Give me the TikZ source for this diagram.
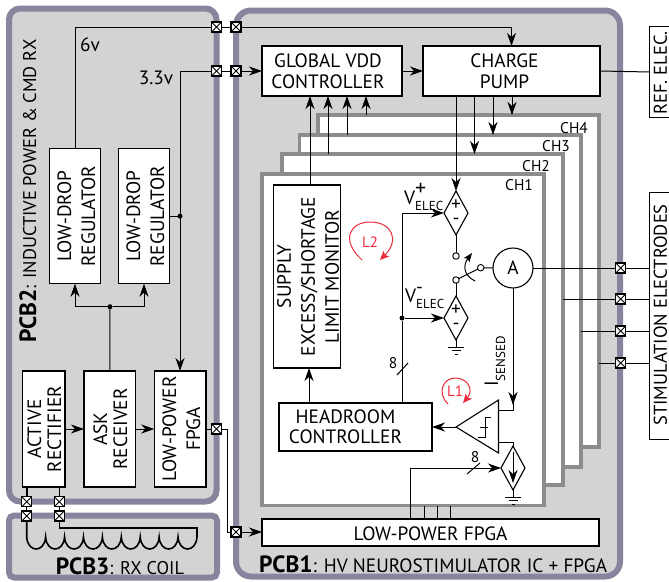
\documentclass[tikz,border=0pt]{standalone}
\usepackage{fontspec}
\usepackage{graphicx}
\setmainfont{PT Sans}
\usetikzlibrary{positioning,shapes.geometric,arrows.meta,calc}
\definecolor{PanelGray}{RGB}{211, 211, 211}
\definecolor{PanelEdge}{RGB}{137, 132, 158}
\definecolor{FrameGray}{RGB}{140, 140, 140}
\definecolor{LoopRed}{RGB}{237, 43, 60}
\newcommand{\btext}[1]{\raisebox{-8pt}[0pt][0pt]{\begin{tabular}{@{}c@{}}#1\end{tabular}}}
\newcommand{\vtext}[1]{\makebox[40pt][c]{\hspace*{6.5pt}\rotatebox{90}{\begin{tabular}{@{}c@{}}#1\end{tabular}}}}
\newcommand{\pcbname}[2]{{\fontsize{23.5}{26}\selectfont\bfseries #1}: #2}
\tikzset{
  wh/.style 2 args={minimum width=#1, minimum height=#2},
  panel/.style={draw=PanelEdge, fill=PanelGray, line width=6pt, rectangle, outer sep=0pt},
  chframe/.style={draw=FrameGray, fill=white, line width=3.5pt, rectangle, outer sep=0pt},
  block/.style={draw, fill=white, line width=1.1pt, rectangle, inner sep=0pt, outer sep=0pt,
    font=\fontsize{19.3}{21}\selectfont},
  tallblock/.style={block, font=\fontsize{19.3}{24}\selectfont},
  shortblock/.style={block, font=\fontsize{19.3}{20}\selectfont},
  lbl/.style={inner sep=0pt, font=\fontsize{19.3}{22}\selectfont},
  chlbl/.style={lbl, font=\fontsize{15.5}{18}\selectfont},
  wire/.style={line width=1pt},
  arr/.style={wire, -{Stealth[length=13pt, width=9pt, inset=4pt]}},
  coilwire/.style={line width=1.6pt},
  pad/.style={draw, fill=white, line width=1.5pt, rectangle, minimum size=10pt, inner sep=0pt, outer sep=0pt,
    path picture={
      \draw[line width=0.9pt] (path picture bounding box.south west) -- (path picture bounding box.north east);
      \draw[line width=0.9pt] (path picture bounding box.north west) -- (path picture bounding box.south east);
    }},
  dot/.style={circle, fill=black, minimum size=5pt, inner sep=0pt, outer sep=0pt},
  term/.style={draw, fill=white, circle, line width=0.9pt, minimum size=6.5pt, inner sep=0pt, outer sep=0pt},
  srcdia/.style={draw, fill=white, diamond, line width=1.1pt, wh={24}{44}, inner sep=0pt, outer sep=0pt},
  loopred/.style={draw=LoopRed, line width=1pt, -{Stealth[length=9pt, width=8pt, inset=2pt]}},
  gnd/.pic={
    \draw[wire] (0,0) -- (0,7);
    \draw[wire] (-8,7) -- (8,7);
    \draw[wire] (-4.5,10.5) -- (4.5,10.5);
    \draw[wire] (-1.5,14) -- (1.5,14);
  }
}
\begin{document}
\begin{tikzpicture}[x=1pt, y=-1pt]
    \useasboundingbox (0,0) rectangle (669,581);
    % boards
    \node[panel, rounded corners=11pt, wh={207.5}{493}] (pcbTwo) at (112.75,255) {};
    \node[panel, rounded corners=5pt, wh={208}{62}] (pcbThree) at (113,546.5) {};
    \node[panel, rounded corners=15pt, wh={384}{566}] (pcbOne) at (428,293.5) {};
    \node[lbl, rotate=90, anchor=west, font=\fontsize{18.4}{22}\selectfont] (pcbTwoTxt) at (28,343) {\pcbname{PCB2}{INDUCTIVE POWER \& CMD RX}};
    \node[lbl, font=\fontsize{18.4}{22}\selectfont] (pcbThreeTxt) at (120,566) {\pcbname{PCB3}{RX COIL}};
    \node[lbl, anchor=west] (pcbOneTxt) at (259,564) {\pcbname{PCB1}{HV NEUROSTIMULATOR IC + FPGA}};

    % PCB2 blocks
    \node[tallblock, wh={51}{135}] (ldoA) at (75,216.2) {\vtext{LOW-DROP\\REGULATOR}};
    \node[tallblock, wh={51}{135}, right=18pt of ldoA] (ldoB) {\vtext{LOW-DROP\\REGULATOR}};
    \node[shortblock, wh={42.3}{116}] (rect) at (43.8,429) {\vtext{ACTIVE\\RECTIFIER}};
    \node[shortblock, wh={51.7}{116}, right=19pt of rect] (ask) {\vtext{ASK\\RECEIVER}};
    \node[tallblock, wh={51.7}{116}, right=18.6pt of ask] (fpgaA) {\vtext{LOW-POWER\\FPGA}};

    % channels
    \node[chframe, wh={281}{332}] (ch4) at (458.5,281) {};
    \node[chframe, wh={281.5}{332}] (ch3) at (440.25,301) {};
    \node[chframe, wh={281}{331}] (ch2) at (422.5,319.5) {};
    \node[chframe, wh={282}{331.6}] (ch1) at (403,339.8) {};
    \node[chlbl] (ch4Txt) at (574,128) {CH4};
    \node[chlbl] (ch3Txt) at (556,146) {CH3};
    \node[chlbl] (ch2Txt) at (536,166) {CH2};
    \node[chlbl] (ch1Txt) at (519,185) {CH1};

    % PCB1 blocks
    \node[block, wh={140}{50}] (gvdd) at (332,71) {\btext{GLOBAL VDD\\CONTROLLER}\hspace*{8pt}};
    \node[block, wh={177}{50}] (pump) at (511.5,71) {\btext{CHARGE\\PUMP}\hspace*{14pt}};
    \node[tallblock, wh={67}{183}] (supply) at (306.8,276.5) {\vtext{SUPPLY\\EXCESS/SHORTAGE\\LIMIT MONITOR}};
    \node[shortblock, wh={153}{48}] (headroom) at (355.5,427) {\btext{HEADROOM\\CONTROLLER}\hspace*{20pt}};
    \node[block, wh={337}{27}] (fpgaB) at (430.5,532.5) {\raisebox{-7.5pt}[0pt][0pt]{LOW-POWER FPGA}};
    \node[srcdia] (vp) at (456,213) {};
    \node[srcdia] (vm) at (456,318) {};
    \node[srcdia] (isrc) at (513,468) {};
    \node[draw, fill=white, circle, line width=1.1pt, minimum size=40pt, inner sep=0pt, outer sep=0pt,
      font=\fontsize{19.3}{22}\selectfont] (amp) at (513,268) {A};
    \node[term] (swTop) at (456,256) {};
    \node[term] (swLow) at (456,280) {};
    \node[term] (swOut) at (480.7,267.7) {};

    % electrodes, cut by the page edge
    \node[block, wh={60}{91}] (ref) at (679.5,72) {};
    \node[block, wh={60}{247.5}] (stim) at (679.5,316) {};
    \node[lbl, rotate=90, font=\fontsize{18.5}{22}\selectfont] (refTxt) at (660.5,73) {REF. ELEC.};
    \node[lbl, rotate=90, font=\fontsize{18.5}{22}\selectfont] (stimTxt) at (660.5,315) {STIMULATION ELECTRODES};

    % pads between boards
    \node[pad] (padSixA) at (216.5,27) {};
    \node[pad] (padSixB) at (236,27) {};
    \node[pad] (padLowA) at (216.5,71) {};
    \node[pad] (padLowB) at (236,71) {};
    \node[pad] (padDataA) at (216.5,429) {};
    \node[pad] (padDataB) at (236,532) {};
    \node[pad] (padRxA) at (26.7,501.7) {};
    \node[pad] (padRxB) at (59.3,501.7) {};
    \node[pad] (padRxC) at (26.7,516) {};
    \node[pad] (padRxD) at (59.3,516) {};
    \node[pad] (padElA) at (620.7,268) {};
    \node[pad] (padElB) at (620.7,299) {};
    \node[pad] (padElC) at (620.7,331) {};
    \node[pad] (padElD) at (620.7,363) {};

    % supply rails
    \draw[wire] (ldoA.north) |- (padSixA);
    \draw[wire] (padSixA) -- (padSixB);
    \draw[arr] (padSixB) -| (pump.north);
    \node[lbl] (sixTxt) at (90,45) {6v};
    \node[lbl] (lowTxt) at (156,78) {3.3v};
    \node[dot] (ldoDot) at (180,216.2) {};
    \draw[wire] (ldoB.east) -- (ldoDot);
    \draw[arr] (padLowA -| ldoDot) -- (fpgaA.north -| ldoDot);
    \draw[wire] (padLowA -| ldoDot) -- (padLowA);
    \draw[wire] (padLowA) -- (padLowB);
    \draw[arr] (padLowB) -- (gvdd.west);
    \draw[arr] (gvdd.east) -- (pump.west);

    % PCB2 signal path
    \node[dot] (askDot) at (110,306.7) {};
    \draw[wire] (ask.north) -- (askDot);
    \draw[arr] (askDot) -| (ldoA.south);
    \draw[arr] (askDot) -| (ldoB.south);
    \draw[arr] (rect.east) -- (ask.west);
    \draw[arr] (ask.east) -- (fpgaA.west);
    \draw[wire] (fpgaA.east) -- (padDataA);
    \coordinate (dataBend) at (227,429);
    \draw[wire] (padDataA) -- (dataBend) |- (padDataB);
    \draw[arr] (padDataB) -- (fpgaB.west |- padDataB);

    % RX coil
    \draw[coilwire] (rect.south -| padRxA) -- (padRxA);
    \draw[coilwire] (rect.south -| padRxB) -- (padRxB);
    \draw[wire] (padRxA) -- (padRxC);
    \draw[wire] (padRxB) -- (padRxD);
    \coordinate (coilStart) at (26.7,537);
    \coordinate (coilEnd) at (197,537);
    \draw[coilwire] (padRxC) -- (coilStart)
      \foreach \k in {0,...,8} { .. controls +(1,16) and +(-1,16) .. ($(coilStart)+({18.92*(\k+1)},0)$) };
    \draw[coilwire] (padRxD) |- (197,527.7) -- (coilEnd);

    % charge pump and controller links
    \draw[arr] (vp.north |- pump.south) -- (vp.north);
    \foreach \x/\ch in {474.5/ch2, 493/ch3, 512/ch4}
      \draw[arr] (pump.south -| \x,0) -- (\ch.north -| \x,0);
    \foreach \x/\ch in {328/ch2, 347/ch3, 366/ch4}
      \draw[arr] (\ch.north -| \x,0) -- (gvdd.south -| \x,0);
    \draw[arr] (supply.north -| 310,0) -- (gvdd.south -| 310,0);
    \draw[wire] (pump.east) -- (ref.west);

    % channel 1
    \draw[arr] (headroom.north -| 309,0) -- (supply.south -| 309,0);
    \node[dot] (vmDot) at (402,318) {};
    \draw[wire] (headroom.north -| vmDot) -- (vmDot);
    \draw[arr] (vmDot) -- (vm.west);
    \draw[arr] (vmDot) |- (vp.west);
    \draw[wire] (397,375) -- (408,363);
    \node[chlbl] (eightA) at (393,363) {8};
    \draw[wire] (vp.south) -- (swTop);
    \draw[wire] (swLow) -- (vm.north);
    \draw[wire] (swLow) -- (swOut);
    \draw[wire] (swOut) -- (amp.west);
    \coordinate (armFrom) at (475,281);
    \coordinate (armTo) at (472,253);
    \draw[wire, -{Stealth[length=9pt, width=7pt, inset=2pt]}] (armFrom) .. controls (463,275) and (463,265) .. (armTo);
    \node[lbl, anchor=west] (vpTxt) at (404,197) {V\rlap{\raisebox{9pt}{\fontsize{22}{22}\selectfont +}}\raisebox{-6pt}{\fontsize{13}{15}\selectfont ELEC}};
    \node[lbl, anchor=west] (vmTxt) at (405,298) {V\rlap{\raisebox{9pt}{\fontsize{19}{20}\selectfont -}}\raisebox{-6pt}{\fontsize{13}{15}\selectfont ELEC}};
    \node[lbl] (vpPlus) at (456,205) {+};
    \node[lbl] (vpMinus) at (456,221) {-};
    \node[lbl] (vmPlus) at (456,310) {+};
    \node[lbl] (vmMinus) at (456,326) {-};
    \pic at (vm.south) {gnd};
    \pic at (isrc.south) {gnd};
    \draw[wire] (amp.east) -- (padElA);

    % electrode lines
    \draw[wire] (padElA) -- (stim.west |- padElA);
    \draw[wire] (ch2.east |- padElB) -- (padElB);
    \draw[wire] (padElB) -- (stim.west |- padElB);
    \draw[wire] (ch3.east |- padElC) -- (padElC);
    \draw[wire] (padElC) -- (stim.west |- padElC);
    \draw[wire] (ch4.east |- padElD) -- (padElD);
    \draw[wire] (padElD) -- (stim.west |- padElD);

    % comparator and current source
    \coordinate (cmpTip) at (456,427);
    \coordinate (cmpTop) at (498.5,400);
    \coordinate (cmpBot) at (498.5,453);
    \coordinate (senseIn) at (498.5,410);
    \coordinate (refIn) at (498.5,442.5);
    \draw[line width=1.1pt, fill=white] (cmpTip) -- (cmpTop) -- (cmpBot) -- cycle;
    \draw[wire] (478,437) -- (485,437) -- (485,417) -- (490.7,417);
    \draw[wire] (480,427) -- (488,427);
    \draw[arr] (cmpTip) -- (headroom.east |- cmpTip);
    \draw[wire] (amp.south) -- (amp.south |- senseIn) -- (senseIn);
    \draw[arr] (amp.south) -- (513,405);
    \draw[wire] (refIn) -| (isrc.north);
    \draw[arr] (513,452) -- (513,483);
    \node[lbl, rotate=90, anchor=west] (senseTxt) at (495,387) {I\raisebox{-7pt}{\fontsize{13}{15}\selectfont SENSED}};

    % 8 bit bus and FPGA links
    \draw[arr] (fpgaB.north -| 410.7,0) |- (isrc.west);
    \draw[wire] (467,474) -- (480,463);
    \node[chlbl] (eightB) at (475,457) {8};
    \foreach \x in {424,437,450}
      \draw[wire] (fpgaB.north -| \x,0) -- (ch1.south -| \x,0);

    % loop marks
    \coordinate (loopTwoA) at (362,260);
    \coordinate (loopTwoB) at (380,260);
    \coordinate (loopOneA) at (448,404);
    \coordinate (loopOneB) at (463,403);
    \draw[loopred] (loopTwoA) .. controls (340,240) and (350,222) .. (370,222) .. controls (392,222) and (400,240) .. (loopTwoB);
    \draw[loopred] (loopOneA) .. controls (436,392) and (444,378) .. (455,378) .. controls (468,378) and (474,390) .. (loopOneB);
    \node[lbl, text=LoopRed, font=\fontsize{15}{17}\selectfont] (loopTwoTxt) at (370,242) {L2};
    \node[lbl, text=LoopRed, font=\fontsize{15}{17}\selectfont] (loopOneTxt) at (455,391) {L1};
  \end{tikzpicture}
\end{document}
